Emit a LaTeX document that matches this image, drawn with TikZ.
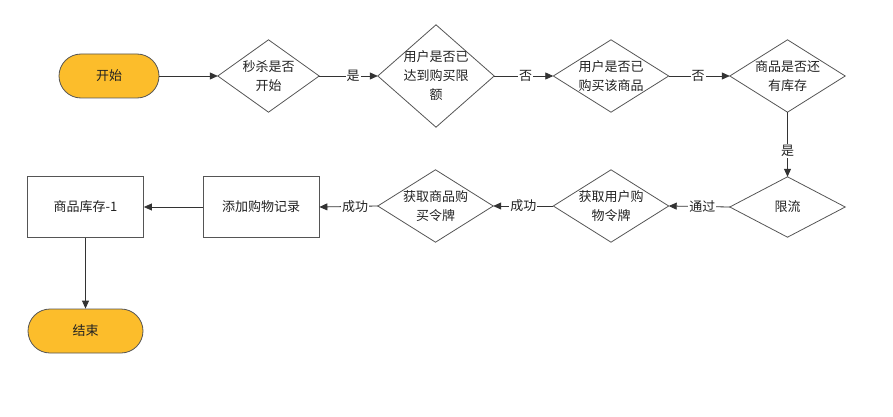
\documentclass[tikz,border=0pt]{standalone}
\usepackage{fontspec}
\setmainfont{Noto Sans CJK SC}
\usetikzlibrary{arrows.meta}
\definecolor{termfill}{HTML}{FCBD2B}
\definecolor{edgegray}{HTML}{555555}
\definecolor{arrowgray}{HTML}{333333}
\definecolor{txt}{HTML}{222222}
\newcommand\drawdiamond[1]{\draw[edgegray,line width=0.8pt,line join=miter] (#1.north) -- (#1.east) -- (#1.south) -- (#1.west) -- cycle;}
\begin{document}
\begin{tikzpicture}[x=1pt,y=-1pt,
  every node/.style={font=\fontsize{13}{19}\selectfont, text=txt},
  term/.style={draw=edgegray, line width=0.8pt, fill=termfill, rounded corners=22pt, minimum width=#1, minimum height=44pt, inner sep=0pt},
  box/.style={draw=edgegray, line width=0.8pt, fill=white, minimum width=116pt, minimum height=61pt, inner sep=0pt},
  dia/.style={shape=rectangle, minimum width=115pt, minimum height=#1, inner sep=0pt, align=center},
  conn/.style={arrowgray, line width=0.8pt, -{Triangle[length=8pt,width=7pt]}},
  lbl/.style={fill=white, inner sep=1pt}
]
\path[use as bounding box] (0,0) rectangle (893,417);

\node[term=100pt] (start) at (109,76) {开始};
\node[dia=72pt, minimum width=101pt] (d1) at (268.5,76) {秒杀是否\\开始};
\node[dia=102pt, minimum width=116pt] (d2) at (436,76) {用户是否已\\达到购买限\\额};
\node[dia=72pt] (d3) at (611,76) {用户是否已\\购买该商品};
\node[dia=72pt] (d4) at (787.5,76) {商品是否还\\有库存};
\node[dia=60pt] (lim) at (787.5,207) {限流};
\node[dia=72pt] (tk1) at (611,206) {获取用户购\\物令牌};
\node[dia=72pt] (tk2) at (435.5,206) {获取商品购\\买令牌};
\node[box] (rec) at (261,207) {添加购物记录};
\node[box] (stock) at (85.5,207) {商品库存-1};
\node[term=115pt] (end) at (85.5,331) {结束};

\drawdiamond{d1}
\drawdiamond{d2}
\drawdiamond{d3}
\drawdiamond{d4}
\drawdiamond{lim}
\drawdiamond{tk1}
\drawdiamond{tk2}

\draw[conn] (start.east) -- (d1.west);
\draw[conn] (d1.east) -- node[lbl,pos=0.58]{是} (d2.west);
\draw[conn] (d2.east) -- node[lbl,pos=0.53]{否} (d3.west);
\draw[conn] (d3.east) -- node[lbl,pos=0.48]{否} (d4.west);
\draw[conn] (d4.south) -- node[lbl,pos=0.6]{是} (lim.north);
\draw[conn] (lim.west) -- node[lbl,pos=0.45]{通过} (tk1.east);
\draw[conn] (tk1.west) -- node[lbl,pos=0.5]{成功} (tk2.east);
\draw[conn] (tk2.west) -- node[lbl,pos=0.39]{成功} (rec.east);
\draw[conn] (rec.west) -- (stock.east);
\draw[conn] (stock.south) -- (end.north);
\end{tikzpicture}
\end{document}
